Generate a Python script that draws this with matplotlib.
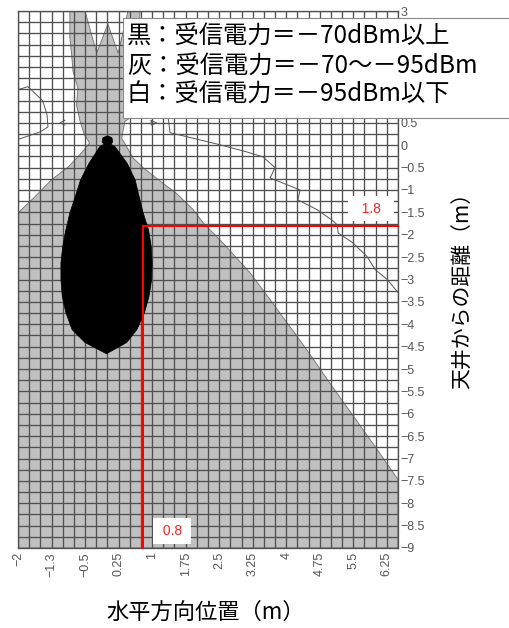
import numpy as np
import matplotlib.pyplot as plt
from matplotlib.patches import Polygon, Rectangle

plt.rcParams['font.family'] = ['Liberation Sans', 'DejaVu Sans']
JP = ['Noto Sans CJK JP', 'DejaVu Sans']

# axis ranges / ticks
x_min, x_max = -2, 6.5
y_min, y_max = -9, 3
x_ticks = [-2, -1.25, -0.5, 0.25, 1, 1.75, 2.5, 3.25, 4, 4.75, 5.5, 6.25]
x_labels = ['−2', '−1.3', '−0.5', '0.25', '1', '1.75', '2.5', '3.25', '4', '4.75', '5.5', '6.25']
y_ticks = np.arange(-9, 3.01, 0.5)
grid_step = 0.25

# grey zone (-70 .. -95 dBm) outline
gray_x = [-2, 6.5, 6.5, 6.0, 5.5, 5.0, 4.46, 4.08, 3.64, 3.19, 2.6, 2.14, 1.92, 1.55, 1.18, 0.8, 0.57,
          0.32, 0.39, 0.5, 0.68, 0.73, 0.46, 0.24, 0.01, -0.24, -0.5, -0.84, -0.84, -0.8, -0.77,
          -0.66, -0.69, -0.61, -0.52, -0.4, -0.58, -0.87, -1.25, -1.62, -2]
gray_y = [-9, -9, -7.47, -6.75, -6.05, -5.35, -4.57, -4.05, -3.45, -2.85, -2.2, -1.73, -1.44, -1.08, -0.8, -0.5, -0.28,
          0.16, 0.53, 0.61, 1.9, 3.0, 3.0, 2.06, 2.71, 2.06, 3.0, 3.0, 2.4, 2.02, 1.65,
          1.28, 0.9, 0.53, 0.25, 0.05, -0.17, -0.48, -0.77, -1.15, -1.51]

# black zone (>= -70 dBm): left / right edge at each height
black_y = [0.21, 0.17, 0.08, 0.02, -0.03, -0.4, -0.77, -1.15, -1.51, -1.89, -2.26, -2.63, -3.0, -3.38, -3.74, -4.12, -4.41, -4.66]
black_left = [0.0, -0.1, -0.12, -0.08, -0.17, -0.41, -0.6, -0.72, -0.84, -0.93, -1.0, -1.04, -1.04, -1.01, -0.93, -0.79, -0.5, -0.02]
black_right = [0.0, 0.1, 0.12, 0.08, 0.17, 0.44, 0.62, 0.71, 0.8, 0.92, 0.98, 1.0, 0.99, 0.93, 0.83, 0.66, 0.43, -0.02]

# thin contour lines in the white zone
line_a_x = [-2, -1.78, -1.45, -1.35, -1.33, -1.5, -2]
line_a_y = [1.24, 1.31, 1.0, 0.68, 0.41, 0.3, 0.13]
line_b_x = [1.36, 1.4, 1.78, 2.52, 3.12, 3.48, 3.75, 3.64, 4.31, 4.26, 4.69, 5.02, 5.14, 5.16, 5.49, 5.81, 5.99, 6.26, 6.5]
line_b_y = [0.61, 0.28, 0.19, 0.01, -0.15, -0.26, -0.5, -0.73, -1.0, -1.22, -1.44, -1.67, -1.78, -1.96, -2.18, -2.49, -2.78, -3.0, -3.29]
mark_l_x = [-0.95, -1.06, -0.95]
mark_l_y = [0.56, 0.5, 0.45]
mark_r_x = [0.98, 1.1, 0.98, 0.98]
mark_r_y = [0.55, 0.5, 0.45, 0.55]

# marked point
px, py = 0.8, -1.8

legend_lines = ['黒：受信電力＝－70dBm以上',
                '灰：受信電力＝－70～－95dBm',
                '白：受信電力＝－95dBm以下']

fig = plt.figure(figsize=(5.09, 6.28), dpi=100)
ax = fig.add_axes([18 / 509, 80 / 628, 380 / 509, 537 / 628])
ax.set_xlim(x_min, x_max)
ax.set_ylim(y_min, y_max)

ax.add_patch(Polygon(np.column_stack([gray_x, gray_y]), closed=True,
                     facecolor='#c0c0c0', edgecolor='#6e6e6e', lw=0.6, zorder=1))

gx = np.arange(x_min, x_max + 0.01, grid_step)
gy = np.arange(y_min, y_max + 0.01, grid_step)
ax.vlines(gx, y_min, y_max, color='#505050', lw=0.95, zorder=2)
ax.hlines(gy, x_min, x_max, color='#505050', lw=0.95, zorder=2)

ax.plot(line_a_x, line_a_y, color='#555555', lw=0.7, zorder=2.5)
ax.plot(line_b_x, line_b_y, color='#555555', lw=0.7, zorder=2.5)
ax.plot(mark_l_x, mark_l_y, color='#555555', lw=0.7, zorder=2.5)
ax.plot(mark_r_x, mark_r_y, color='#555555', lw=0.7, zorder=2.5)

bx = list(black_left) + list(black_right[::-1])
by = list(black_y) + list(black_y[::-1])
ax.add_patch(Polygon(np.column_stack([bx, by]), closed=True,
                     facecolor='black', edgecolor='black', lw=0.5, zorder=3))

ax.plot([px, x_max], [py, py], color='red', lw=1.5, zorder=4, clip_on=False)
ax.plot([px, px], [py, y_min], color='red', lw=1.5, zorder=4, clip_on=False)
ax.text(5.9, -1.42, '  1.8  ', color='#ff2020', fontsize=10, ha='center', va='center', zorder=5,
        bbox=dict(facecolor='white', edgecolor='none', boxstyle='square,pad=0.4'))
ax.text(1.45, -8.62, ' 0.8 ', color='#ff2020', fontsize=10, ha='center', va='center', zorder=5,
        bbox=dict(facecolor='white', edgecolor='none', boxstyle='square,pad=0.4'))

for s in ax.spines.values():
    s.set_color('#505050')
    s.set_linewidth(0.95)

ax.set_xticks(x_ticks)
ax.set_xticklabels(x_labels, rotation=90, color='#555555', fontsize=9)
ax.yaxis.tick_right()
ax.set_yticks(y_ticks)
# labels 1 .. 2.5 sit under the legend box in the original
y_labels = ['' if 0.9 < v < 2.9 else f'{v:g}'.replace('-', '−') for v in y_ticks]
ax.set_yticklabels(y_labels, color='#555555', fontsize=9)
ax.tick_params(axis='both', length=0)
ax.tick_params(axis='x', pad=3)
ax.tick_params(axis='y', pad=2)

# legend text box (runs off the right edge)
fig.patches.append(Rectangle((123 / 509, 1 - 118 / 628), 400 / 509, 100 / 628,
                             transform=fig.transFigure, facecolor='white',
                             edgecolor='#888888', lw=0.8, zorder=10))
for i, t in enumerate(legend_lines):
    fig.text(127 / 509, 1 - (36 + 29.5 * i) / 628, t, family=JP, fontsize=17.5,
             va='center', ha='left', zorder=11)

fig.text(463 / 509, 1 - 285 / 628, '天井からの距離（m）', family=JP, fontsize=15,
         rotation=90, ha='center', va='center')
fig.text(206 / 509, 1 - 612 / 628, '水平方向位置（m）', family=JP, fontsize=16,
         ha='center', va='center')

plt.savefig('out.png', dpi=100)
plt.close()
